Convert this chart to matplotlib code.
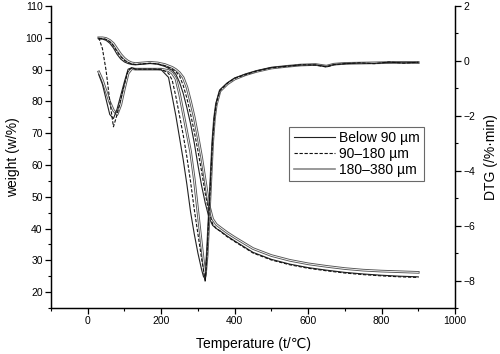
import matplotlib
matplotlib.use("Agg")
import matplotlib.pyplot as plt
import matplotlib.patheffects as pe
from matplotlib.lines import Line2D
from matplotlib.ticker import MultipleLocator

plt.rcParams['font.family'] = ['Liberation Sans', 'DejaVu Sans']

# TG curves (left axis, weight %)
T_tg = [30, 40, 50, 60, 70, 80, 90, 100, 110, 120, 130, 150, 170, 190, 210, 230, 240, 250,
        260, 270, 280, 290, 300, 310, 320, 330, 340, 350, 360, 380, 400, 450, 500, 550,
        600, 650, 700, 750, 800, 850, 900]
tg_below90 = [99.6, 99.6, 99.2, 98.3, 96.8, 94.8, 93.3, 92.4, 91.9, 91.6, 91.5, 91.7, 91.9, 91.7,
              91.0, 89.8, 88.5, 86.0, 82.5, 78.0, 73.0, 67.0, 60.0, 53.5, 48.0, 43.5, 41.0, 40.0,
              39.3, 37.6, 36.1, 32.5, 30.3, 28.8, 27.7, 26.9, 26.2, 25.7, 25.3, 25.0, 24.8]
tg_90_180 = [99.8, 99.8, 99.5, 98.8, 97.5, 95.6, 94.0, 92.9, 92.2, 91.8, 91.6, 91.8, 92.0, 91.8,
             91.2, 90.2, 89.3, 88.0, 85.0, 81.0, 76.0, 70.5, 64.5, 58.0, 51.0, 45.0, 41.5, 40.0,
             39.2, 37.4, 35.9, 32.3, 30.1, 28.6, 27.5, 26.7, 26.0, 25.5, 25.1, 24.8, 24.6]
tg_180_380 = [100.0, 100.0, 99.8, 99.2, 98.2, 96.5, 94.8, 93.5, 92.6, 92.1, 91.9, 92.1, 92.3, 92.1,
              91.6, 90.7, 90.0, 89.0, 87.5, 84.5, 80.0, 75.0, 69.0, 62.5, 55.0, 47.5, 43.0, 41.3,
              40.4, 38.7, 37.2, 33.7, 31.5, 30.0, 28.9, 28.1, 27.4, 26.9, 26.6, 26.4, 26.2]

# DTG curves (right axis, %/min)
T_dtg = [30, 40, 50, 60, 70, 80, 90, 100, 110, 120, 130, 150, 180, 200, 220, 230, 240, 250, 260,
         270, 280, 290, 300, 310, 315, 320, 325, 330, 335, 340, 345, 350, 360, 380, 400, 430,
         460, 500, 540, 580, 620, 650, 670, 700, 740, 780, 820, 860, 900]
dtg_below90 = [-0.5, -0.85, -1.4, -1.95, -2.1, -1.75, -1.25, -0.75, -0.3, -0.25, -0.3, -0.3, -0.3,
               -0.32, -0.6, -1.3, -2.0, -2.8, -3.6, -4.5, -5.5, -6.3, -7.0, -7.6, -7.85, -7.95,
               -6.9, -5.5, -4.1, -2.8, -2.0, -1.5, -1.05, -0.8, -0.62, -0.48, -0.36, -0.24, -0.19,
               -0.15, -0.14, -0.2, -0.13, -0.1, -0.08, -0.09, -0.05, -0.07, -0.05]
dtg_90_180 = [0.85, 0.45, -0.35, -1.45, -2.4, -1.95, -1.4, -0.85, -0.35, -0.25, -0.3, -0.3, -0.3,
              -0.3, -0.45, -0.7, -1.3, -2.0, -2.7, -3.5, -4.4, -5.4, -6.3, -7.2, -7.6, -8.05,
              -7.0, -5.6, -4.2, -2.9, -2.05, -1.55, -1.08, -0.82, -0.64, -0.5, -0.37, -0.25, -0.2,
              -0.14, -0.15, -0.22, -0.14, -0.1, -0.07, -0.1, -0.04, -0.08, -0.05]
dtg_180_380 = [-0.4, -0.7, -1.1, -1.5, -1.8, -1.95, -1.6, -1.0, -0.45, -0.28, -0.3, -0.3, -0.3,
               -0.3, -0.35, -0.45, -0.65, -1.2, -1.9, -2.6, -3.3, -4.3, -5.5, -6.7, -7.3, -7.85,
               -7.1, -5.8, -4.4, -3.0, -2.1, -1.6, -1.1, -0.84, -0.66, -0.5, -0.38, -0.26, -0.2,
               -0.15, -0.13, -0.19, -0.12, -0.09, -0.08, -0.07, -0.06, -0.05, -0.06]

labels = ['Below 90 µm', '90–180 µm', '180–380 µm']

fig = plt.figure(figsize=(5, 3.54), dpi=100)
ax = fig.add_axes([0.102, 0.13, 0.808, 0.853])
ax2 = ax.twinx()

solid = dict(color='#222222', lw=0.8)
dashed = dict(color='#111111', lw=0.8, ls=(0, (3, 1.5)))
double = dict(color='white', lw=0.6,
              path_effects=[pe.Stroke(linewidth=1.9, foreground='#555555'), pe.Normal()])

ax.plot(T_tg, tg_180_380, **double)
ax.plot(T_tg, tg_below90, **solid)
ax.plot(T_tg, tg_90_180, **dashed)
ax2.plot(T_dtg, dtg_180_380, **double)
ax2.plot(T_dtg, dtg_below90, **solid)
ax2.plot(T_dtg, dtg_90_180, **dashed)

ax.set_xlim(-100, 1000)
ax.set_ylim(15, 110)
ax2.set_ylim(-9, 2)

ax.xaxis.set_major_locator(MultipleLocator(200))
ax.xaxis.set_minor_locator(MultipleLocator(100))
ax.yaxis.set_major_locator(MultipleLocator(10))
ax.yaxis.set_minor_locator(MultipleLocator(5))
ax2.yaxis.set_major_locator(MultipleLocator(2))
ax2.yaxis.set_minor_locator(MultipleLocator(1))

for a in (ax, ax2):
    a.spines['top'].set_visible(False)
    for s in a.spines.values():
        s.set_linewidth(0.9)
    a.tick_params(which='major', direction='out', length=4, width=0.9, labelsize=7.5, pad=2)
    a.tick_params(which='minor', direction='out', length=2.5, width=0.8)

ax.set_xlabel('Temperature (t/℃)', fontsize=10, labelpad=8)
ax.set_ylabel('weight (w/%)', fontsize=10, labelpad=4)
ax2.set_ylabel('DTG (/%·min)', fontsize=10, rotation=90, labelpad=6)

handles = [Line2D([], [], **solid), Line2D([], [], **dashed),
           Line2D([], [], color='#888888', lw=1.2)]
leg = ax.legend(handles, labels, loc='upper left', bbox_to_anchor=(0.59, 0.60),
                fontsize=10, frameon=True, fancybox=False, handlelength=3.0,
                handletextpad=0.3, labelspacing=0.15, borderpad=0.3, borderaxespad=0)
leg.get_frame().set_edgecolor('#444444')
leg.get_frame().set_linewidth(0.8)

fig.savefig('out.png', dpi=100)
